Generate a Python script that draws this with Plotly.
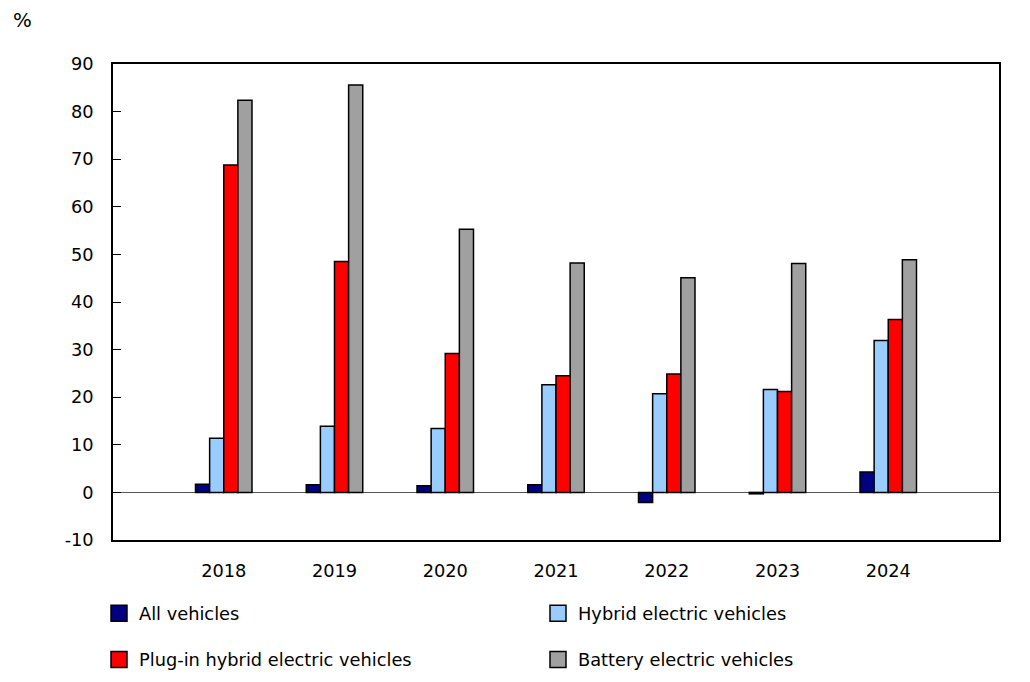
import plotly.graph_objects as go

# year of each group of bars
years = [2018, 2019, 2020, 2021, 2022, 2023, 2024]

# percent change by vehicle type
all_vehicles = [1.7, 1.6, 1.4, 1.6, -2.1, -0.3, 4.3]
hybrid = [11.4, 13.9, 13.4, 22.6, 20.7, 21.6, 31.9]
plug_in_hybrid = [68.8, 48.5, 29.2, 24.5, 24.9, 21.2, 36.3]
battery = [82.4, 85.6, 55.3, 48.2, 45.1, 48.1, 48.9]

# y axis ticks (plain hyphen for the negative value)
y_ticks = [-10, 0, 10, 20, 30, 40, 50, 60, 70, 80, 90]
y_tick_labels = ['-10', '0', '10', '20', '30', '40', '50', '60', '70', '80', '90']

series = [
    ('All vehicles', all_vehicles, '#000080', 'legend'),
    ('Hybrid electric vehicles', hybrid, '#99CCFF', 'legend'),
    ('Plug-in hybrid electric vehicles', plug_in_hybrid, '#FF0000', 'legend2'),
    ('Battery electric vehicles', battery, '#A0A0A0', 'legend2'),
]

FONT = 'DejaVu Sans, Verdana, sans-serif'
FONT_SIZE = 17.8

fig = go.Figure()

for name, values, color, legend in series:
    fig.add_trace(go.Bar(
        x=years, y=values, name=name, showlegend=False,
        marker=dict(color=color, line=dict(color='black', width=1.5)),
    ))
    # square legend swatch
    fig.add_trace(go.Scatter(
        x=[None], y=[None], mode='markers', name=name, legend=legend,
        marker=dict(symbol='square', size=18, color=color,
                    line=dict(color='black', width=1.5)),
    ))

legend_common = dict(
    orientation='h', xanchor='left', yanchor='middle', x=-0.0158,
    entrywidthmode='pixels', entrywidth=394, itemsizing='trace',
    font=dict(family=FONT, size=FONT_SIZE, color='black'), bgcolor='rgba(0,0,0,0)',
)

fig.update_layout(
    width=1030, height=682,
    margin=dict(l=105, r=39, t=56, b=147),
    paper_bgcolor='white', plot_bgcolor='white',
    barmode='group', bargap=0.49, bargroupgap=0,
    font=dict(family=FONT, size=FONT_SIZE, color='black'),
    legend=dict(y=-0.155, **legend_common),
    legend2=dict(y=-0.252, **legend_common),
    annotations=[dict(
        text='%', xref='paper', yref='paper', x=-0.115, y=1.092,
        xanchor='left', yanchor='middle', showarrow=False,
        font=dict(family=FONT, size=FONT_SIZE + 2, color='black'),
    )],
)

fig.update_xaxes(
    range=[2017, 2025], tickmode='array', tickvals=years,
    ticks='', showgrid=False, zeroline=False,
    showline=True, linecolor='black', linewidth=1.5, mirror=True,
    ticklabelstandoff=14,
)
fig.update_yaxes(
    range=[-10, 90], tickmode='array', tickvals=y_ticks, ticktext=y_tick_labels,
    ticks='inside', ticklen=8, tickcolor='black', tickwidth=1,
    showgrid=False, zeroline=True, zerolinecolor='#555555', zerolinewidth=1,
    showline=True, linecolor='black', linewidth=1.5, mirror=True,
    ticklabelstandoff=14,
)

fig.write_html('out.html')
